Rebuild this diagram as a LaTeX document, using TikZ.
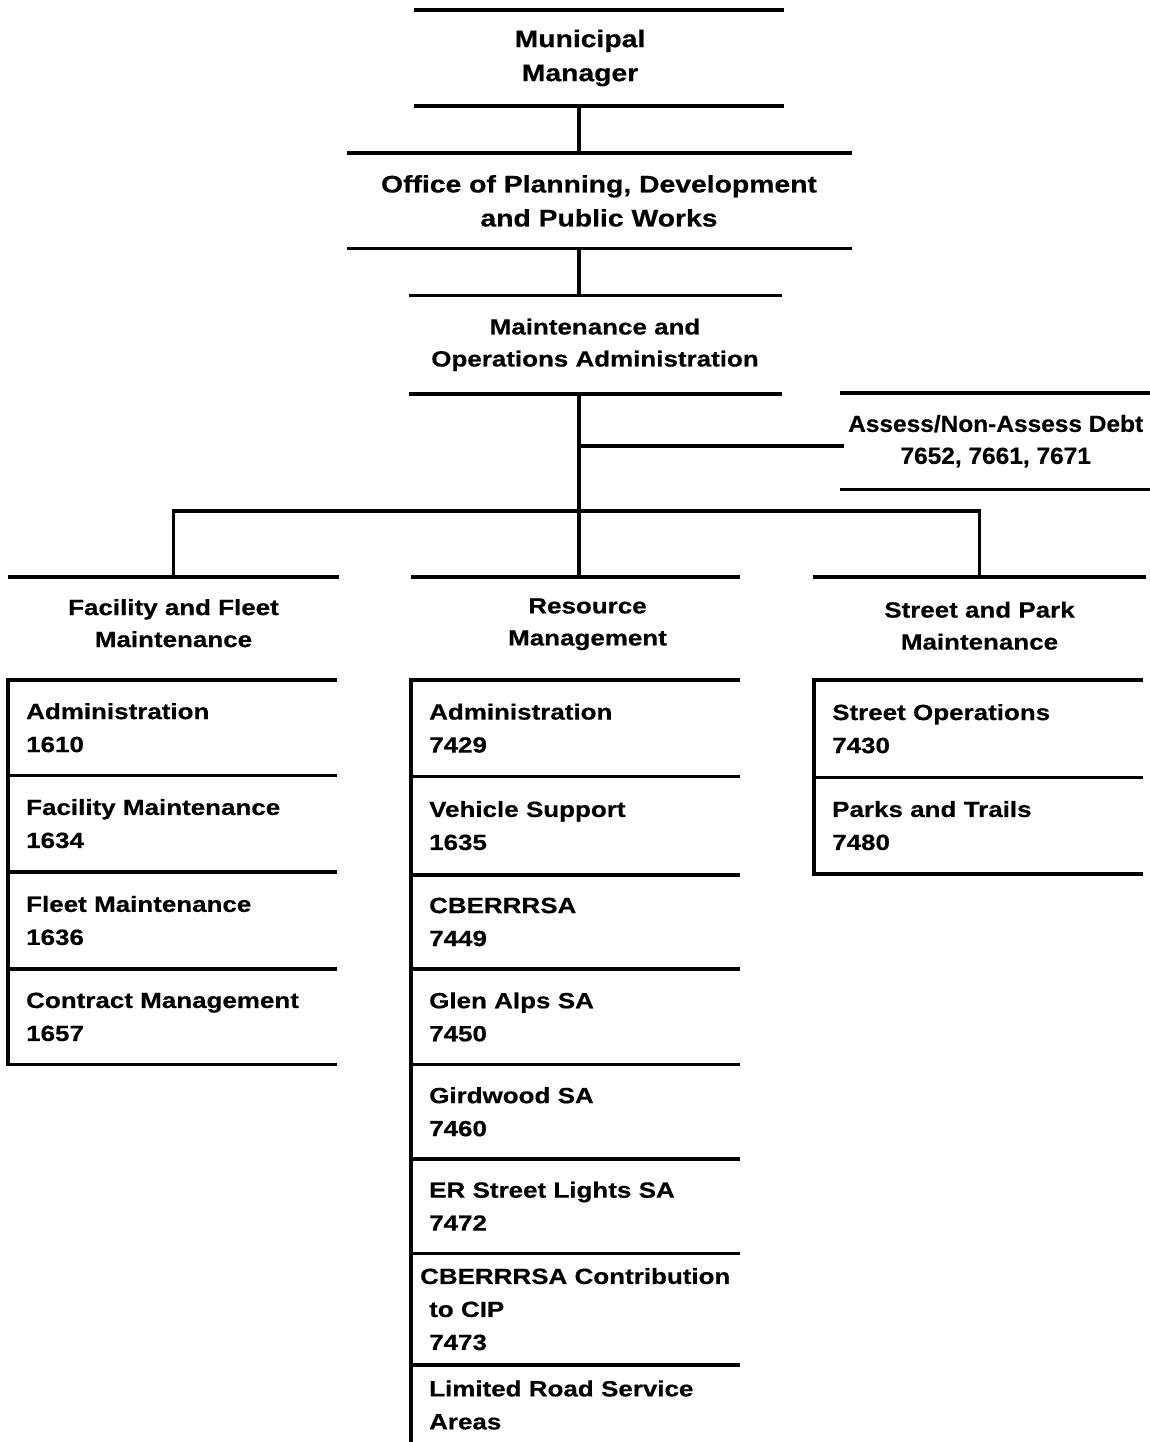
\documentclass[tikz,border=0pt]{standalone}
\usepackage{fontspec}
\setmainfont{Liberation Sans}[FakeStretch=1.18, BoldFeatures={FakeBold=0.5}]
\newfontfamily\debtfont{Liberation Sans}[FakeStretch=1.05, BoldFeatures={FakeBold=0.5}]
\usetikzlibrary{positioning}

\begin{document}
\begin{tikzpicture}[
    x=1pt, y=-1pt,
    rule/.style={line width=3.6pt, line cap=rect},
    unit/.style={inner sep=0pt, align=center,
                font=\fontsize{22}{32}\selectfont\bfseries,
                append after command={
                  (\tikzlastnode.north west) edge[rule] (\tikzlastnode.north east)
                  (\tikzlastnode.south west) edge[rule] (\tikzlastnode.south east)}},
    bigunit/.style={unit, font=\fontsize{24}{34}\selectfont\bfseries},
    colhead/.style={inner sep=0pt, align=center, minimum height=92pt,
                font=\fontsize{22}{32}\selectfont\bfseries,
                append after command={
                  (\tikzlastnode.north west) edge[rule] (\tikzlastnode.north east)}},
    lastcell/.style={inner xsep=18pt, inner ysep=0pt, text width=291pt, align=left,
                minimum height=96pt,
                font=\fontsize{22}{33}\selectfont\bfseries,
                append after command={
                  (\tikzlastnode.north west) edge[rule] (\tikzlastnode.north east)}},
    cell/.style={lastcell, append after command={
                  (\tikzlastnode.south west) edge[rule] (\tikzlastnode.south east)}}
]
    \useasboundingbox (0,0) rectangle (1149,1442);

    % Top of the chain
    \node[bigunit, minimum width=366pt, minimum height=96pt] (mm) at (599,58) {Municipal\hspace*{38pt}\\Manager\hspace*{38pt}};
    \node[bigunit, minimum width=501pt, minimum height=95pt, below=47pt of mm] (opd) {Office of Planning, Development\\and Public Works};
    \node[unit, minimum width=369pt, minimum height=98pt, below=47pt of opd, xshift=-4pt] (moa) {Maintenance and\\Operations Administration};
    \node[unit, font=\fontsize{23.3}{32}\selectfont\debtfont\bfseries,
          minimum width=307pt, minimum height=96pt, anchor=north west] (debt) at (842,393) {Assess/Non-Assess Debt\\7652, 7661, 7671};

    % Division headers
    \node[colhead, minimum width=327pt, anchor=north] (ffm) at (173.5,577) {Facility and Fleet\\Maintenance};
    \node[colhead, minimum width=325pt, minimum height=94pt, anchor=north] (rsm) at (575.5,577) {\hspace*{24pt}Resource\\\hspace*{24pt}Management};
    \node[colhead, minimum width=329pt, minimum height=97pt, anchor=north] (spm) at (979.5,577) {Street and Park\\Maintenance};

    % Facility and Fleet column
    \node[cell, minimum height=95pt, anchor=north west] (fa) at (8,680) {Administration\\1610};
    \node[cell, below=0pt of fa] (fb) {Facility Maintenance\\1634};
    \node[cell, minimum height=97pt, below=0pt of fb] (fc) {Fleet Maintenance\\1636};
    \node[cell, minimum height=95pt, below=0pt of fc] (fd) {Contract Management\\1657};

    % Resource column
    \node[cell, anchor=north west] (ra) at (411,680) {Administration\\7429};
    \node[cell, minimum height=98pt, below=0pt of ra] (rb) {Vehicle Support\\1635};
    \node[cell, minimum height=94pt, below=0pt of rb] (rc) {CBERRRSA\\7449};
    \node[cell, minimum height=95pt, below=0pt of rc] (rd) {Glen Alps SA\\7450};
    \node[cell, minimum height=94pt, below=0pt of rd] (re) {Girdwood SA\\7460};
    \node[cell, minimum height=94pt, below=0pt of re] (rf) {ER Street Lights SA\\7472};
    \node[cell, minimum height=111pt, below=0pt of rf] (rg) {\hspace*{-9pt}\mbox{CBERRRSA Contribution}\\to CIP\\7473};
    \node[lastcell, minimum height=80pt, below=0pt of rg] (rh) {Limited Road Service\\Areas};

    % Street and Park column
    \node[cell, minimum height=97pt, anchor=north west] (sa) at (814,680) {Street Operations\\7430};
    \node[cell, below=0pt of sa] (sb) {Parks and Trails\\7480};

    % Connectors
    \coordinate (trunk) at (579,0);
    \coordinate (bus) at (0,511);
    \draw[rule] (mm.south -| trunk) -- (opd.north -| trunk);
    \draw[rule] (opd.south -| trunk) -- (moa.north -| trunk);
    \draw[rule] (moa.south -| trunk) -- (rsm.north -| trunk);
    \draw[rule] ([yshift=-5pt]trunk |- debt.west) -- ([yshift=-5pt]debt.west);
    \draw[rule] (ffm.north) -- (ffm.north |- bus) -| (spm.north);

    % Column spines
    \draw[rule] (fa.north west) -- (fd.south west);
    \draw[rule] (ra.north west) -- (rh.south west);
    \draw[rule] (sa.north west) -- (sb.south west);
\end{tikzpicture}
\end{document}
